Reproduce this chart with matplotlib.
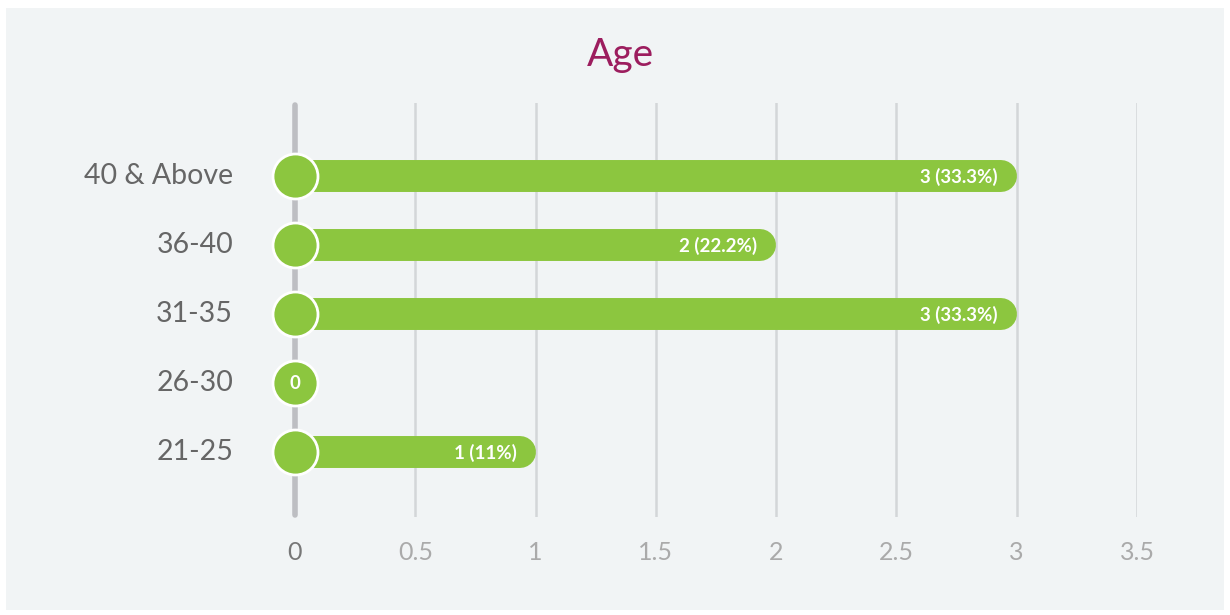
import matplotlib.pyplot as plt
from matplotlib.patches import Rectangle

# data
categories = ["21-25", "26-30", "31-35", "36-40", "40 & Above"]
counts = [1, 0, 3, 2, 3]
labels = ["1 (11%)", "0", "3 (33.3%)", "2 (22.2%)", "3 (33.3%)"]
xticks = [0, 0.5, 1, 1.5, 2, 2.5, 3, 3.5]
xtick_labels = ["0", "0.5", "1", "1.5", "2", "2.5", "3", "3.5"]

green = "#8cc63f"
font = ["Lato", "DejaVu Sans"]

fig = plt.figure(figsize=(12.3, 6.15), dpi=100, facecolor="white")
fig.patches.append(Rectangle((6 / 1230, 5 / 615), 1218 / 1230, 602 / 615,
                             transform=fig.transFigure, facecolor="#f1f4f5",
                             edgecolor="none", zorder=-10))

ax = fig.add_axes([295 / 1230, 1 - 517 / 615, 842 / 1230, 414 / 615])
ax.set_facecolor("none")
ax.set_xlim(0, 3.5)
ax.set_ylim(-0.94, 5.06)
for s in ax.spines.values():
    s.set_visible(False)
ax.set_xticks([])
ax.set_yticks([])

# grid lines
for x in xticks[1:]:
    ax.axvline(x, color="#d3d6d8", lw=1.8, zorder=1)
ax.plot([0, 0], [-0.94 + 0.03, 5.06 - 0.03], color="#bdbec2", lw=4,
        solid_capstyle="round", zorder=1, clip_on=False)

# bar radius in data units (16 px)
px_per_unit = ax.transData.transform((1, 0))[0] - ax.transData.transform((0, 0))[0]
r = 16 / px_per_unit

for i, (v, lab) in enumerate(zip(counts, labels)):
    if v > 0:
        ax.plot([r, v - r], [i, i], color=green, lw=23, solid_capstyle="round",
                zorder=2, clip_on=False)
        ax.annotate(lab, (v, i), xytext=(-19, -1), textcoords="offset pixels",
                    ha="right", va="center", color="white", fontsize=13.5,
                    fontweight="bold", family=font, zorder=4)
    else:
        ax.text(0, i - 0.01, lab, ha="center", va="center", color="white",
                fontsize=13.5, fontweight="bold", family=font, zorder=4)
    ax.scatter([0], [i], s=(45 * 0.72) ** 2, color=green, edgecolors="white",
               linewidths=2, zorder=3, clip_on=False)
    ax.annotate(categories[i], (0, i), xytext=(-62, 0), textcoords="offset pixels",
                ha="right", va="center", color="#666666", fontsize=20.5,
                family=font)

for x, t in zip(xticks, xtick_labels):
    ax.annotate(t, (x, -0.94), xytext=(0, -35), textcoords="offset pixels",
                ha="center", va="center", fontsize=18, family=font,
                color="#777777" if x == 0 else "#aaaaaa", annotation_clip=False)

fig.text(620 / 1230, 1 - 55 / 615, "Age", ha="center", va="center",
         fontsize=28, color="#9c1d5e", family=font)

fig.savefig("out.png", dpi=100, facecolor="white")
